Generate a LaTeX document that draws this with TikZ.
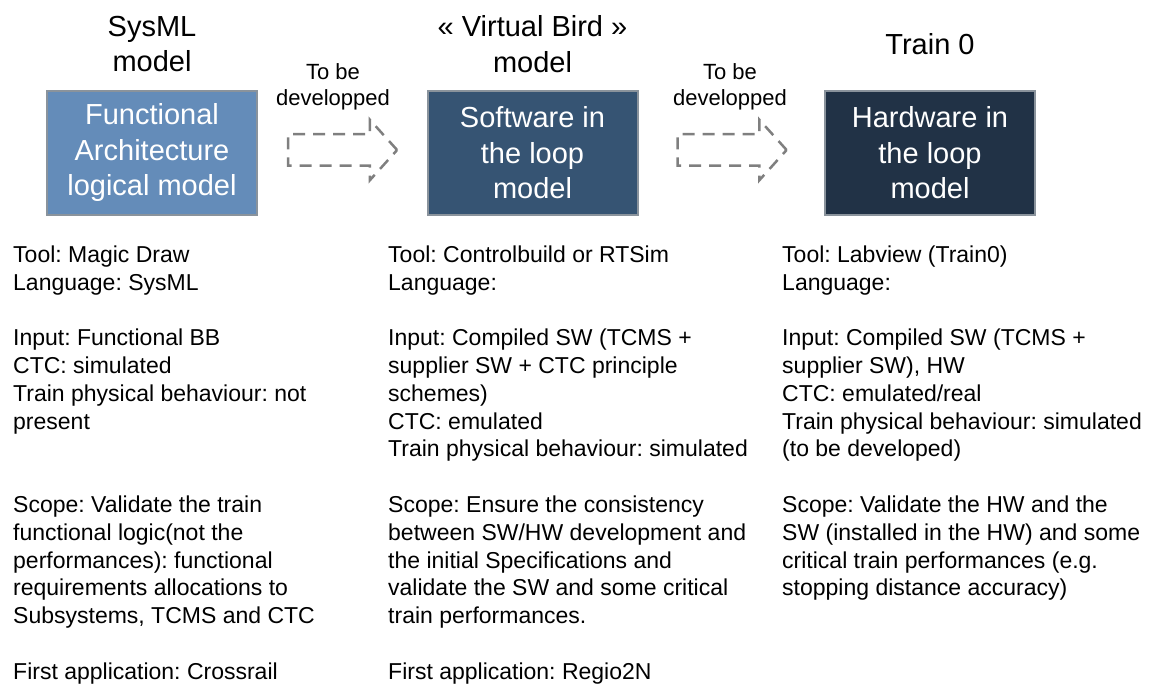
\documentclass[tikz,border=0pt]{standalone}
\usepackage{fontspec}
\setmainfont{Liberation Sans}
\usepackage{xcolor}
\usetikzlibrary{positioning,shapes.arrows}
\frenchspacing

\definecolor{funcblue}{HTML}{648CB9}
\definecolor{silblue}{HTML}{365473}
\definecolor{hilblue}{HTML}{213246}
\definecolor{boxedge}{HTML}{8A939C}
\definecolor{dashgray}{HTML}{7F7F7F}

\tikzset{
  model/.style={draw=boxedge, line width=2pt, minimum width=210pt, minimum height=124pt,
    inner sep=0pt, text=white, align=center, font=\fontsize{29}{35.5}\selectfont},
  title/.style={align=center, inner sep=0pt, font=\fontsize{29}{35.5}\selectfont},
  note/.style={align=center, inner sep=0pt, font=\fontsize{22}{26.5}\selectfont},
  info/.style={anchor=north west, align=left, inner sep=0pt, font=\fontsize{23}{27.8}\selectfont},
  todo/.style={single arrow, draw=dashgray, line width=2.5pt, dash pattern=on 12pt off 8pt,
    inner sep=0pt, text height=14.5pt, text depth=14.5pt, minimum height=109pt,
    single arrow head extend=14.5pt, single arrow tip angle=96}
}

\begin{document}
\begin{tikzpicture}[x=1pt, y=-1pt]
  \useasboundingbox (0,0) rectangle (1153,687);
  % the three models
  \node[model, fill=funcblue] (fa) at (152,153) {Functional\\Architecture\\logical model};
  \node[model, fill=silblue] (sil) at (532.5,153) {Software in\\the loop\\model};
  \node[model, fill=hilblue] (hil) at (930,153) {Hardware in\\the loop\\model};
  \node[title] (faT) at (152,44) {SysML\\model};
  \node[title] (silT) at (532.5,44) {« Virtual Bird »\\model};
  \node[title] (hilT) at (930,44) {Train 0};
  % steps still to be done
  \node[todo] (devA) at (335.5,150) {};
  \node[todo] (devB) at (725,150) {};
  \node[note] (devAT) at (333,87) {To be\\developped};
  \node[note] (devBT) at (730,87) {To be\\developped};
  % descriptions
  \node[info] (faI) at (13,245.5) {Tool: Magic Draw\\Language: SysML\\[27.8pt]
    Input: Functional BB\\CTC: simulated\\Train physical behaviour: not\\present\\[55.6pt]
    Scope: Validate the train\\functional logic(not the\\performances): functional\\
    requirements allocations to\\Subsystems, TCMS and CTC\\[27.8pt]
    First application: Crossrail};
  \node[info] (silI) at (388,245.5) {Tool: Controlbuild or RTSim\\Language:\\[27.8pt]
    Input: Compiled SW (TCMS +\\supplier SW + CTC principle\\schemes)\\CTC: emulated\\
    Train physical behaviour: simulated\\[27.8pt]
    Scope: Ensure the consistency\\between SW/HW development and\\the initial Specifications and\\
    validate the SW and some critical\\train performances.\\[27.8pt]
    First application: Regio2N};
  \node[info] (hilI) at (782,245.5) {Tool: Labview (Train0)\\Language:\\[27.8pt]
    Input: Compiled SW (TCMS +\\supplier SW), HW\\CTC: emulated/real\\
    Train physical behaviour: simulated\\(to be developed)\\[27.8pt]
    Scope: Validate the HW and the\\SW (installed in the HW) and some\\
    critical train performances (e.g.\\stopping distance accuracy)};
\end{tikzpicture}
\end{document}
